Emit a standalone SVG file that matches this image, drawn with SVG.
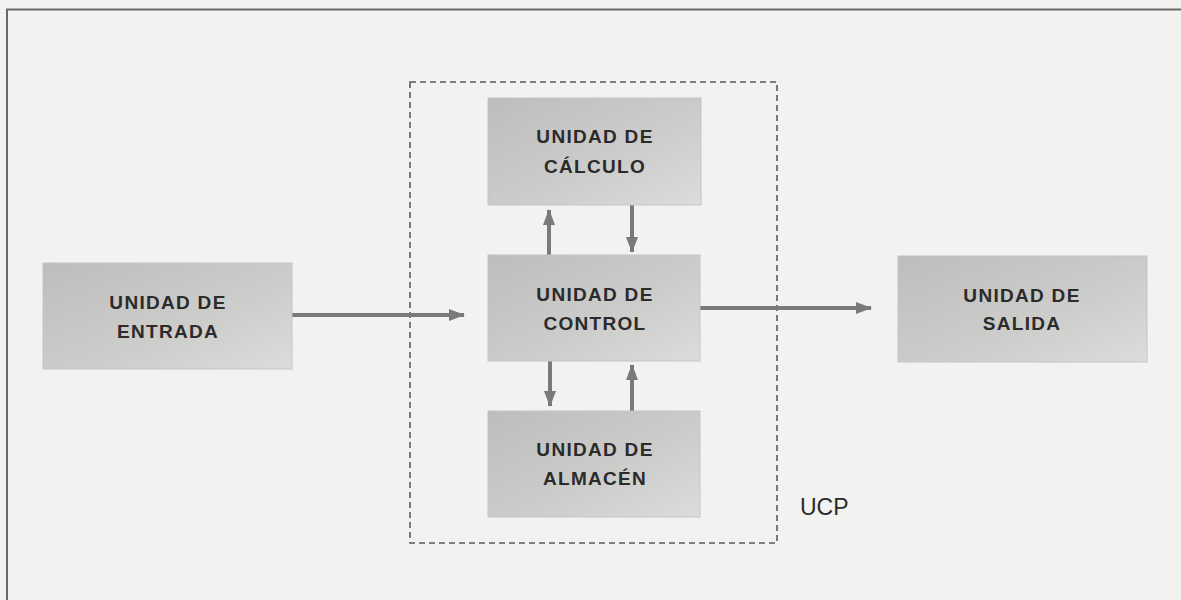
<svg xmlns="http://www.w3.org/2000/svg" width="1181" height="600" viewBox="0 0 1181 600">
<defs>
<linearGradient id="boxg" x1="0" y1="0" x2="1" y2="1">
<stop offset="0" stop-color="#bdbdbb"/>
<stop offset="0.6" stop-color="#cdcdcb"/>
<stop offset="1" stop-color="#dcdcda"/>
</linearGradient>
<marker id="ah" viewBox="0 0 16 12" refX="15" refY="6" markerWidth="16" markerHeight="12" markerUnits="userSpaceOnUse" orient="auto">
<path d="M0,0 L16,6 L0,12 Z" fill="#7a7a7a"/>
</marker>
</defs>
<style>
.box{fill:url(#boxg);stroke:#c4c4c2;stroke-width:1}
.lbl{font-family:"Liberation Sans",Arial,sans-serif;font-weight:bold;font-size:19px;letter-spacing:1.3px;fill:#2b2b2b;text-anchor:middle}
.conn{stroke:#7a7a7a;stroke-width:4;fill:none;marker-end:url(#ah)}
.ucp{fill:none;stroke:#5a5a5a;stroke-width:1.6;stroke-dasharray:6 4}
.frame{stroke:#6a6a6a;stroke-width:2;fill:none}
</style>
<rect x="0" y="0" width="1181" height="600" fill="#f2f2f0"/>
<path class="frame" d="M7,600 L7,9.5 L1181,9.5"/>
<g id="ucp">
<rect class="ucp" x="410" y="82" width="367" height="461"/>
<text x="800" y="515" font-family="'Liberation Sans',Arial,sans-serif" font-size="23" fill="#2b2b2b">UCP</text>
</g>
<g id="connectors">
<line class="conn" x1="292" y1="315" x2="464" y2="315"/>
<line class="conn" x1="700" y1="308" x2="871" y2="308"/>
<line class="conn" x1="549" y1="255" x2="549" y2="210"/>
<line class="conn" x1="632" y1="205" x2="632" y2="252"/>
<line class="conn" x1="550" y1="361" x2="550" y2="406"/>
<line class="conn" x1="632" y1="411" x2="632" y2="365"/>
</g>
<g id="calculo">
<rect class="box" x="488" y="98" width="213" height="107"/>
<text class="lbl" x="595" y="143">UNIDAD DE</text>
<text class="lbl" x="595" y="173">CÁLCULO</text>
</g>
<g id="control">
<rect class="box" x="488" y="255" width="212" height="106"/>
<text class="lbl" x="595" y="301">UNIDAD DE</text>
<text class="lbl" x="595" y="330">CONTROL</text>
</g>
<g id="almacen">
<rect class="box" x="488" y="411" width="212" height="106"/>
<text class="lbl" x="595" y="456">UNIDAD DE</text>
<text class="lbl" x="595" y="485">ALMACÉN</text>
</g>
<g id="entrada">
<rect class="box" x="43" y="263" width="249" height="106"/>
<text class="lbl" x="168" y="309">UNIDAD DE</text>
<text class="lbl" x="168" y="338">ENTRADA</text>
</g>
<g id="salida">
<rect class="box" x="898" y="256" width="249" height="106"/>
<text class="lbl" x="1022" y="302">UNIDAD DE</text>
<text class="lbl" x="1022" y="330">SALIDA</text>
</g>
</svg>
